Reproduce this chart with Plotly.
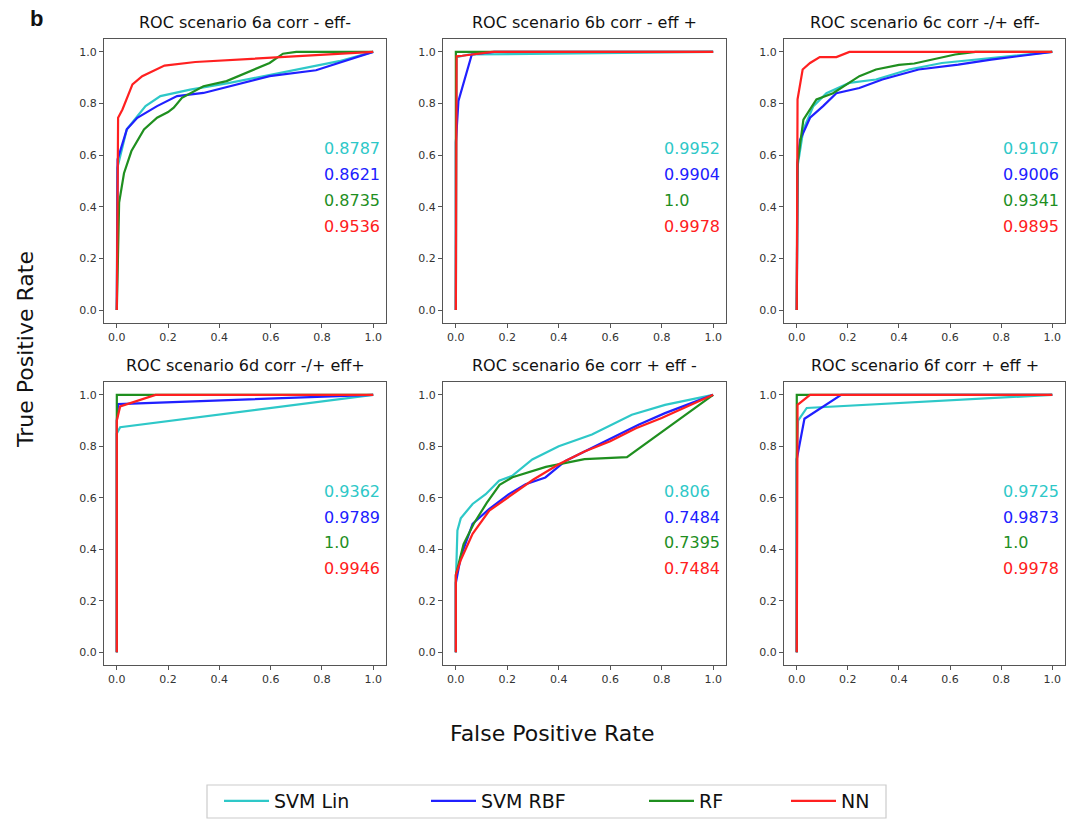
import plotly.graph_objects as go

# ---------------- data ----------------
models = ["SVM Lin", "SVM RBF", "RF", "NN"]
colors = ["#2ec8c8", "#2020ff", "#1f8f1f", "#ff2020"]

titles = [
    "ROC scenario 6a corr - eff-",
    "ROC scenario 6b corr - eff +",
    "ROC scenario 6c corr -/+ eff-",
    "ROC scenario 6d corr -/+ eff+",
    "ROC scenario 6e corr + eff -",
    "ROC scenario 6f corr + eff +",
]

auc_labels = [
    ["0.8787", "0.8621", "0.8735", "0.9536"],
    ["0.9952", "0.9904", "1.0", "0.9978"],
    ["0.9107", "0.9006", "0.9341", "0.9895"],
    ["0.9362", "0.9789", "1.0", "0.9946"],
    ["0.806", "0.7484", "0.7395", "0.7484"],
    ["0.9725", "0.9873", "1.0", "0.9978"],
]

# scenario 6a
a_lin_fpr = [0, 0.002, 0.039, 0.093, 0.112, 0.17, 0.286, 0.44, 0.674, 0.867, 1.0]
a_lin_tpr = [0, 0.55, 0.70, 0.77, 0.79, 0.829, 0.854, 0.88, 0.925, 0.964, 1.0]
a_rbf_fpr = [0, 0.003, 0.039, 0.08, 0.157, 0.235, 0.338, 0.44, 0.596, 0.777, 1.0]
a_rbf_tpr = [0, 0.584, 0.70, 0.745, 0.79, 0.829, 0.841, 0.867, 0.906, 0.929, 1.0]
a_rf_fpr = [0, 0.005, 0.009, 0.028, 0.057, 0.106, 0.157, 0.20, 0.222, 0.254, 0.338, 0.428, 0.506, 0.596, 0.648, 0.70, 1.0]
a_rf_tpr = [0, 0.25, 0.416, 0.53, 0.616, 0.70, 0.745, 0.767, 0.784, 0.822, 0.867, 0.887, 0.919, 0.957, 0.993, 1.0, 1.0]
a_nn_fpr = [0, 0.005, 0.022, 0.061, 0.099, 0.186, 0.306, 0.596, 1.0]
a_nn_tpr = [0, 0.745, 0.777, 0.874, 0.906, 0.947, 0.961, 0.977, 1.0]

# scenario 6b
b_lin_fpr = [0, 0.003, 0.05, 1.0]
b_lin_tpr = [0, 0.98, 0.99, 1.0]
b_rbf_fpr = [0, 0.0, 0.01, 0.062, 0.15, 1.0]
b_rbf_tpr = [0, 0.65, 0.81, 0.99, 1.0, 1.0]
b_rf_fpr = [0, 0.0, 1.0]
b_rf_tpr = [0, 1.0, 1.0]
b_nn_fpr = [0, 0.003, 0.025, 0.142, 1.0]
b_nn_tpr = [0, 0.983, 0.985, 1.0, 1.0]

# scenario 6c
c_lin_fpr = [0, 0.002, 0.026, 0.065, 0.116, 0.206, 0.31, 0.439, 0.568, 0.697, 0.826, 1.0]
c_lin_tpr = [0, 0.55, 0.70, 0.79, 0.84, 0.88, 0.893, 0.932, 0.957, 0.97, 0.983, 1.0]
c_rbf_fpr = [0, 0.003, 0.013, 0.052, 0.103, 0.155, 0.245, 0.335, 0.477, 0.632, 0.761, 1.0]
c_rbf_tpr = [0, 0.57, 0.66, 0.745, 0.79, 0.84, 0.86, 0.893, 0.932, 0.951, 0.97, 1.0]
c_rf_fpr = [0, 0.003, 0.026, 0.077, 0.142, 0.206, 0.245, 0.31, 0.40, 0.46, 0.55, 0.62, 0.70, 1.0]
c_rf_tpr = [0, 0.57, 0.738, 0.816, 0.84, 0.88, 0.906, 0.932, 0.95, 0.955, 0.975, 0.99, 1.0, 1.0]
c_nn_fpr = [0, 0.003, 0.023, 0.052, 0.09, 0.155, 0.206, 1.0]
c_nn_tpr = [0, 0.816, 0.932, 0.957, 0.98, 0.98, 1.0, 1.0]

# scenario 6d
d_lin_fpr = [0, 0.0, 0.013, 1.0]
d_lin_tpr = [0, 0.85, 0.874, 1.0]
d_rbf_fpr = [0, 0.0, 0.005, 1.0]
d_rbf_tpr = [0, 0.90, 0.964, 1.0]
d_rf_fpr = [0, 0.0, 1.0]
d_rf_tpr = [0, 1.0, 1.0]
d_nn_fpr = [0, 0.0, 0.013, 0.151, 1.0]
d_nn_tpr = [0, 0.90, 0.955, 1.0, 1.0]

# scenario 6e
e_lin_fpr = [0, 0.0, 0.006, 0.019, 0.065, 0.116, 0.168, 0.219, 0.297, 0.40, 0.529, 0.684, 0.813, 1.0]
e_lin_tpr = [0, 0.27, 0.473, 0.52, 0.576, 0.614, 0.666, 0.685, 0.749, 0.80, 0.846, 0.923, 0.961, 1.0]
e_rbf_fpr = [0, 0.0, 0.019, 0.065, 0.129, 0.206, 0.271, 0.348, 0.426, 0.503, 0.606, 0.71, 0.813, 1.0]
e_rbf_tpr = [0, 0.27, 0.37, 0.499, 0.556, 0.614, 0.653, 0.679, 0.743, 0.781, 0.833, 0.884, 0.929, 1.0]
e_rf_fpr = [0, 0.0, 0.03, 0.07, 0.12, 0.17, 0.22, 0.35, 0.50, 0.665, 1.0]
e_rf_tpr = [0, 0.30, 0.42, 0.50, 0.58, 0.65, 0.68, 0.72, 0.75, 0.758, 1.0]
e_nn_fpr = [0, 0.0, 0.02, 0.065, 0.13, 0.2, 0.3, 0.4, 0.5, 0.6, 0.7, 0.8, 1.0]
e_nn_tpr = [0, 0.30, 0.36, 0.46, 0.55, 0.60, 0.67, 0.73, 0.78, 0.82, 0.87, 0.91, 1.0]

# scenario 6f
f_lin_fpr = [0, 0.0, 0.005, 0.039, 1.0]
f_lin_tpr = [0, 0.75, 0.90, 0.949, 1.0]
f_rbf_fpr = [0, 0.0, 0.03, 0.174, 1.0]
f_rbf_tpr = [0, 0.75, 0.907, 1.0, 1.0]
f_rf_fpr = [0, 0.0, 1.0]
f_rf_tpr = [0, 1.0, 1.0]
f_nn_fpr = [0, 0.003, 0.052, 1.0]
f_nn_tpr = [0, 0.961, 1.0, 1.0]

curves = [
    [(a_lin_fpr, a_lin_tpr), (a_rbf_fpr, a_rbf_tpr), (a_rf_fpr, a_rf_tpr), (a_nn_fpr, a_nn_tpr)],
    [(b_lin_fpr, b_lin_tpr), (b_rbf_fpr, b_rbf_tpr), (b_rf_fpr, b_rf_tpr), (b_nn_fpr, b_nn_tpr)],
    [(c_lin_fpr, c_lin_tpr), (c_rbf_fpr, c_rbf_tpr), (c_rf_fpr, c_rf_tpr), (c_nn_fpr, c_nn_tpr)],
    [(d_lin_fpr, d_lin_tpr), (d_rbf_fpr, d_rbf_tpr), (d_rf_fpr, d_rf_tpr), (d_nn_fpr, d_nn_tpr)],
    [(e_lin_fpr, e_lin_tpr), (e_rbf_fpr, e_rbf_tpr), (e_rf_fpr, e_rf_tpr), (e_nn_fpr, e_nn_tpr)],
    [(f_lin_fpr, f_lin_tpr), (f_rbf_fpr, f_rbf_tpr), (f_rf_fpr, f_rf_tpr), (f_nn_fpr, f_nn_tpr)],
]

tick_vals = [0.0, 0.2, 0.4, 0.6, 0.8, 1.0]
tick_text = ["0.0", "0.2", "0.4", "0.6", "0.8", "1.0"]
auc_y = [0.625, 0.525, 0.425, 0.325]

# ---------------- layout ----------------
W, H = 1068, 823
col_px = [(104, 386), (443, 726), (784, 1065)]
row_px = [(39, 323), (382, 665)]
legend_x_px = [219, 426, 644, 786]
FONT = "DejaVu Sans"

fig = go.Figure()
layout = dict(
    width=W, height=H,
    margin=dict(l=0, r=0, t=0, b=0),
    paper_bgcolor="white", plot_bgcolor="white",
    font=dict(family=FONT, color="#222"),
    showlegend=True,
)
annotations = []

for i in range(6):
    r, c = divmod(i, 3)
    idx = "" if i == 0 else str(i + 1)
    xd = [col_px[c][0] / W, col_px[c][1] / W]
    yd = [1 - row_px[r][1] / H, 1 - row_px[r][0] / H]
    axstyle = dict(
        range=[-0.05, 1.05], tickvals=tick_vals, ticktext=tick_text,
        showgrid=False, zeroline=False, showline=True, mirror=True,
        linecolor="#555", linewidth=1.3, ticks="outside", ticklen=4,
        tickcolor="#555", tickfont=dict(size=11, color="#333", family=FONT),
        automargin=False, fixedrange=True,
    )
    layout["xaxis" + idx] = dict(axstyle, domain=xd, anchor="y" + idx)
    layout["yaxis" + idx] = dict(axstyle, domain=yd, anchor="x" + idx)
    for m in range(4):
        fx, ty = curves[i][m]
        fig.add_trace(go.Scatter(
            x=fx, y=ty, mode="lines", name=models[m],
            line=dict(color=colors[m], width=2.2),
            xaxis="x" + idx, yaxis="y" + idx,
            showlegend=(i == 0), legendgroup=models[m],
            legend="legend" if m == 0 else "legend" + str(m + 1),
        ))
        annotations.append(dict(
            x=0.80, y=auc_y[m], xref="x" + idx, yref="y" + idx,
            text=auc_labels[i][m], showarrow=False, xanchor="left", yanchor="middle",
            font=dict(size=16, color=colors[m], family=FONT),
        ))
    annotations.append(dict(
        x=(xd[0] + xd[1]) / 2, y=yd[1] + 5 / H, xref="paper", yref="paper",
        text=titles[i], showarrow=False, xanchor="center", yanchor="bottom",
        font=dict(size=16, color="#111", family=FONT),
    ))

annotations += [
    dict(x=36 / W, y=1 - 18 / H, xref="paper", yref="paper", text="<b>b</b>",
         showarrow=False, xanchor="center", yanchor="middle",
         font=dict(size=22, color="#111", family="Liberation Sans")),
    dict(x=25 / W, y=1 - 350 / H, xref="paper", yref="paper", text="True Positive Rate",
         showarrow=False, textangle=-90, xanchor="center", yanchor="middle",
         font=dict(size=22, color="#111", family=FONT)),
    dict(x=552 / W, y=1 - 733 / H, xref="paper", yref="paper", text="False Positive Rate",
         showarrow=False, xanchor="center", yanchor="middle",
         font=dict(size=22, color="#111", family=FONT)),
]
layout["annotations"] = annotations

# legend frame
layout["shapes"] = [dict(
    type="rect", xref="paper", yref="paper",
    x0=207 / W, x1=886 / W, y0=1 - 818 / H, y1=1 - 785 / H,
    line=dict(color="#cccccc", width=1.2), fillcolor="rgba(0,0,0,0)", layer="below",
)]
for m in range(4):
    key = "legend" if m == 0 else "legend" + str(m + 1)
    layout[key] = dict(
        orientation="h", x=legend_x_px[m] / W, xanchor="left",
        y=1 - 801 / H, yanchor="middle",
        font=dict(size=19, color="#111", family=FONT),
        borderwidth=0, bgcolor="rgba(0,0,0,0)", itemwidth=45,
    )
fig.update_layout(**layout)
fig.write_html("out.html", post_script="document.body.style.margin='0';",
               config={"displayModeBar": False})
